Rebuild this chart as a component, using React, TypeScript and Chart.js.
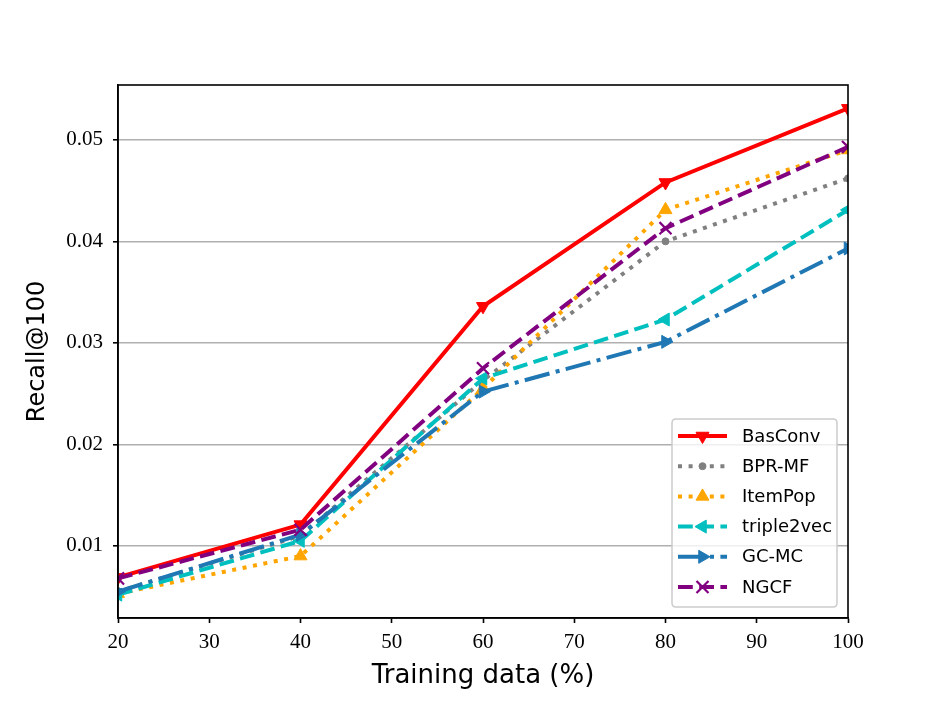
import React, { useEffect, useRef } from 'react';
import { Chart, registerables } from 'chart.js';
import { drawPoint } from 'chart.js/helpers';

Chart.register(...registerables);

// ---- data ----
const trainingData = [20, 40, 60, 80, 100];
const basConv = [0.0069, 0.0121, 0.0336, 0.0458, 0.0531];
const bprMF = [0.0055, 0.0110, 0.0263, 0.0400, 0.0462];
const itemPop = [0.0053, 0.0090, 0.0255, 0.0431, 0.0490];
const triple2vec = [0.0052, 0.0105, 0.0265, 0.0323, 0.0431];
const gcMC = [0.0055, 0.0111, 0.0252, 0.0301, 0.0393];
const ngcf = [0.0068, 0.0116, 0.0275, 0.0413, 0.0493];
const seriesNames = ['BasConv', 'BPR-MF', 'ItemPop', 'triple2vec', 'GC-MC', 'NGCF'];
const xTicks = [20, 30, 40, 50, 60, 70, 80, 90, 100];
const yTicks = [0.01, 0.02, 0.03, 0.04, 0.05];
const xTitle = 'Training data (%)';
const yTitle = 'Recall@100';

// ---- styles ----
const seriesValues = [basConv, bprMF, itemPop, triple2vec, gcMC, ngcf];
const colors = ['#ff0000', '#808080', '#ffa500', '#00bfbf', '#1f77b4', '#800080'];
const dashes: number[][] = [[], [4, 6.6], [4, 6.6], [14.8, 6.4], [25.6, 6.4, 4, 6.4], [14.8, 6.4]];
const pStyles = ['triangle', 'circle', 'triangle', 'triangle', 'triangle', 'crossRot'];
const pRot = [180, 0, 0, 270, 90, 0];
const pRadius = [7.5, 3.5, 7.5, 7.5, 7.5, 8.5];
const pBorder = [1, 1, 1, 1, 1, 2.2];

const frameAndLegend = {
  id: 'frameAndLegend',
  afterDraw(chart: any) {
    const { ctx, chartArea: a } = chart;
    ctx.save();
    ctx.strokeStyle = '#000';
    ctx.lineWidth = 1.6;
    ctx.setLineDash([]);
    ctx.strokeRect(a.left, a.top, a.right - a.left, a.bottom - a.top);

    // legend box
    const w = 165, h = 188;
    const x0 = a.right - 11 - w, y0 = a.bottom - 11 - h;
    const r = 4;
    ctx.beginPath();
    ctx.moveTo(x0 + r, y0);
    ctx.lineTo(x0 + w - r, y0);
    ctx.quadraticCurveTo(x0 + w, y0, x0 + w, y0 + r);
    ctx.lineTo(x0 + w, y0 + h - r);
    ctx.quadraticCurveTo(x0 + w, y0 + h, x0 + w - r, y0 + h);
    ctx.lineTo(x0 + r, y0 + h);
    ctx.quadraticCurveTo(x0, y0 + h, x0, y0 + h - r);
    ctx.lineTo(x0, y0 + r);
    ctx.quadraticCurveTo(x0, y0, x0 + r, y0);
    ctx.closePath();
    ctx.fillStyle = 'rgba(255,255,255,0.8)';
    ctx.fill();
    ctx.strokeStyle = '#cccccc';
    ctx.lineWidth = 1.5;
    ctx.stroke();

    ctx.font = '18px "DejaVu Sans"';
    ctx.textBaseline = 'middle';
    ctx.textAlign = 'left';
    seriesNames.forEach((name, i) => {
      const yy = y0 + 17 + i * 30.2;
      const hx0 = x0 + 6, hx1 = x0 + 55;
      ctx.strokeStyle = colors[i];
      ctx.lineWidth = 4;
      ctx.lineCap = 'butt';
      ctx.setLineDash(dashes[i]);
      ctx.beginPath();
      ctx.moveTo(hx0, yy);
      ctx.lineTo(hx1, yy);
      ctx.stroke();
      ctx.setLineDash([]);
      ctx.fillStyle = colors[i];
      ctx.strokeStyle = colors[i];
      ctx.lineWidth = pBorder[i];
      drawPoint(ctx, { pointStyle: pStyles[i], rotation: pRot[i], radius: pRadius[i], borderWidth: pBorder[i] } as any, (hx0 + hx1) / 2, yy);
      ctx.fillStyle = '#000';
      ctx.fillText(name, x0 + 70, yy + 1);
    });
    ctx.restore();
  },
};

export default function App() {
  const ref = useRef<HTMLCanvasElement | null>(null);
  useEffect(() => {
    document.body.style.margin = '0';
    const canvas = ref.current;
    if (!canvas) return;
    const chart = new Chart(canvas, {
      type: 'line',
      data: {
        datasets: seriesNames.map((name, i) => ({
          label: name,
          data: trainingData.map((x, j) => ({ x, y: seriesValues[i][j] })),
          borderColor: colors[i],
          backgroundColor: colors[i],
          borderWidth: 4,
          borderDash: dashes[i],
          pointStyle: pStyles[i] as any,
          rotation: pRot[i],
          pointRadius: pRadius[i],
          pointBorderWidth: pBorder[i],
          pointBackgroundColor: colors[i],
          pointBorderColor: colors[i],
          fill: false,
          tension: 0,
          clip: 0,
          order: seriesNames.length - i,
        })),
      },
      options: {
        animation: false,
        responsive: false,
        devicePixelRatio: 1,
        layout: { padding: { left: 0, top: 85, right: 94, bottom: 0 } },
        plugins: { legend: { display: false }, tooltip: { enabled: false } },
        scales: {
          x: {
            type: 'linear',
            min: 20,
            max: 100,
            afterBuildTicks: (s: any) => { s.ticks = xTicks.map((v) => ({ value: v })); },
            afterFit: (s: any) => { s.height = 89; },
            grid: { drawOnChartArea: false, drawTicks: true, tickLength: 5, tickColor: '#000', tickWidth: 1.6 },
            border: { color: '#000', width: 1.6 },
            ticks: {
              color: '#000',
              font: { family: 'Liberation Serif', size: 21 },
              padding: 7,
              maxRotation: 0,
              autoSkip: false,
              callback: (v: any) => String(v),
            },
            title: {
              display: true,
              text: xTitle,
              color: '#000',
              font: { family: 'DejaVu Sans', size: 26 },
              padding: { top: 0, bottom: 15 },
            },
          },
          y: {
            type: 'linear',
            min: 0.0029,
            max: 0.0554,
            afterBuildTicks: (s: any) => { s.ticks = yTicks.map((v) => ({ value: v })); },
            afterFit: (s: any) => { s.width = 118; },
            grid: { color: '#b0b0b0', lineWidth: 1.6, drawTicks: true, tickLength: 5, tickColor: '#000', tickWidth: 1.6 },
            border: { color: '#000', width: 1.6 },
            ticks: {
              color: '#000',
              font: { family: 'Liberation Serif', size: 21 },
              padding: 10,
              callback: (v: any) => Number(v).toFixed(2),
            },
            title: {
              display: true,
              text: yTitle,
              color: '#000',
              font: { family: 'DejaVu Sans', size: 24 },
              padding: { top: 23, bottom: 0 },
            },
          },
        },
      },
      plugins: [frameAndLegend],
    });
    return () => chart.destroy();
  }, []);
  return <canvas ref={ref} width={942} height={707} style={{ display: 'block' }} />;
}
